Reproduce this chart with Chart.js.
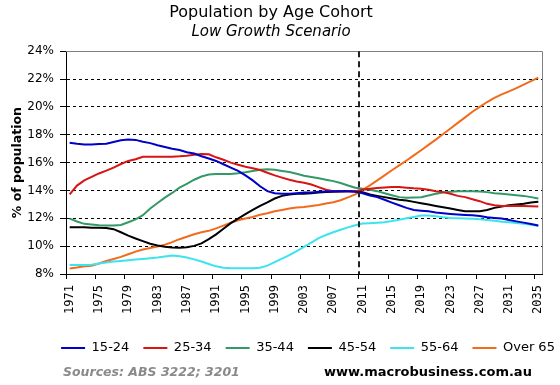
<!DOCTYPE html>
<html>
<head>
<meta charset="utf-8">
<script src="https://cdn.jsdelivr.net/npm/chart.js@4.4.1/dist/chart.umd.min.js"></script>
<style>
  body { margin: 0; background: #fff; }
  #wrap { position: relative; width: 560px; height: 385px; }
  #chart { position: absolute; left: 0; top: 0; }
  .foot { position: absolute; top: 364px; line-height: 16px; font-family: 'DejaVu Sans', sans-serif; font-weight: bold; white-space: nowrap; }
  #sources { left: 63px; font-size: 12.5px; font-style: italic; color: #8a8a8a; }
  #site { left: 324px; font-size: 13px; color: #000; }
</style>
</head>
<body>
<div id="wrap">
  <canvas id="chart" width="560" height="385"></canvas>
  <div class="foot" id="sources">Sources: ABS 3222; 3201</div>
  <div class="foot" id="site">www.macrobusiness.com.au</div>
</div>
<script>
const years = [
  '1971', '1972', '1973', '1974', '1975', '1976', '1977', '1978', '1979', '1980',
  '1981', '1982', '1983', '1984', '1985', '1986', '1987', '1988', '1989', '1990',
  '1991', '1992', '1993', '1994', '1995', '1996', '1997', '1998', '1999', '2000',
  '2001', '2002', '2003', '2004', '2005', '2006', '2007', '2008', '2009', '2010',
  '2011', '2012', '2013', '2014', '2015', '2016', '2017', '2018', '2019', '2020',
  '2021', '2022', '2023', '2024', '2025', '2026', '2027', '2028', '2029', '2030',
  '2031', '2032', '2033', '2034', '2035'
];

// % of population by age group, 1971-2035
const age1524 = [
  17.43, 17.35, 17.30, 17.30, 17.33, 17.36, 17.48, 17.60, 17.65, 17.63,
  17.50, 17.40, 17.25, 17.12, 17.00, 16.90, 16.75, 16.65, 16.46, 16.29,
  16.12, 15.88, 15.64, 15.40, 15.08, 14.72, 14.30, 13.95, 13.80, 13.76,
  13.76, 13.80, 13.85, 13.86, 13.90, 13.92, 13.95, 13.95, 13.95, 13.90,
  13.80, 13.64, 13.52, 13.33, 13.13, 12.94, 12.75, 12.60, 12.55, 12.51,
  12.41, 12.36, 12.31, 12.27, 12.24, 12.22, 12.17, 12.07, 12.02, 11.98,
  11.88, 11.78, 11.69, 11.59, 11.49
];
const age2534 = [
  13.71, 14.35, 14.72, 14.98, 15.22, 15.42, 15.64, 15.90, 16.12, 16.24,
  16.42, 16.42, 16.42, 16.42, 16.42, 16.45, 16.50, 16.57, 16.62, 16.60,
  16.38, 16.20, 16.00, 15.85, 15.70, 15.60, 15.47, 15.27, 15.08, 14.92,
  14.77, 14.65, 14.55, 14.43, 14.24, 14.05, 13.95, 13.95, 13.95, 13.95,
  14.05, 14.12, 14.17, 14.22, 14.24, 14.24, 14.20, 14.15, 14.12, 14.05,
  13.95, 13.88, 13.76, 13.61, 13.52, 13.37, 13.23, 13.04, 12.94, 12.89,
  12.88, 12.88, 12.88, 12.87, 12.84
];
const age3544 = [
  11.98, 11.77, 11.60, 11.55, 11.50, 11.48, 11.48, 11.52, 11.72, 11.92,
  12.22, 12.70, 13.10, 13.48, 13.82, 14.20, 14.48, 14.77, 15.00, 15.14,
  15.18, 15.18, 15.18, 15.23, 15.30, 15.40, 15.48, 15.52, 15.48, 15.40,
  15.33, 15.20, 15.06, 14.96, 14.87, 14.77, 14.67, 14.53, 14.36, 14.19,
  14.12, 14.05, 13.95, 13.80, 13.66, 13.52, 13.47, 13.50, 13.52, 13.64,
  13.76, 13.86, 13.90, 13.95, 13.95, 13.95, 13.93, 13.88, 13.80, 13.76,
  13.71, 13.66, 13.61, 13.52, 13.42
];
const age4554 = [
  11.35, 11.35, 11.35, 11.33, 11.32, 11.30, 11.22, 11.00, 10.76, 10.55,
  10.36, 10.17, 10.05, 9.95, 9.90, 9.88, 9.92, 10.02, 10.20, 10.50,
  10.85, 11.25, 11.65, 11.98, 12.30, 12.60, 12.90, 13.15, 13.42, 13.61,
  13.71, 13.76, 13.76, 13.80, 13.85, 13.88, 13.90, 13.92, 13.95, 13.95,
  13.88, 13.71, 13.61, 13.52, 13.42, 13.33, 13.28, 13.18, 13.08, 12.99,
  12.89, 12.80, 12.70, 12.60, 12.51, 12.51, 12.51, 12.60, 12.75, 12.84,
  12.94, 12.99, 13.04, 13.13, 13.18
];
const age5564 = [
  8.65, 8.65, 8.65, 8.67, 8.75, 8.82, 8.89, 8.94, 8.99, 9.04,
  9.08, 9.13, 9.18, 9.26, 9.32, 9.28, 9.18, 9.05, 8.90, 8.72,
  8.55, 8.45, 8.42, 8.41, 8.41, 8.42, 8.45, 8.60, 8.85, 9.10,
  9.35, 9.65, 9.95, 10.25, 10.58, 10.80, 11.00, 11.18, 11.35, 11.50,
  11.62, 11.65, 11.68, 11.72, 11.80, 11.90, 12.00, 12.10, 12.20, 12.20,
  12.14, 12.07, 12.02, 12.00, 11.98, 11.97, 11.93, 11.88, 11.83, 11.76,
  11.71, 11.66, 11.61, 11.54, 11.45
];
const over65 = [
  8.39, 8.46, 8.55, 8.60, 8.75, 8.94, 9.08, 9.23, 9.42, 9.61,
  9.76, 9.86, 9.98, 10.10, 10.29, 10.50, 10.68, 10.85, 11.00, 11.10,
  11.28, 11.47, 11.68, 11.86, 11.98, 12.10, 12.25, 12.36, 12.50, 12.60,
  12.70, 12.78, 12.82, 12.88, 12.96, 13.06, 13.15, 13.30, 13.50, 13.72,
  14.05, 14.36, 14.72, 15.08, 15.45, 15.80, 16.15, 16.52, 16.89, 17.27,
  17.65, 18.05, 18.45, 18.85, 19.25, 19.65, 20.00, 20.35, 20.65, 20.90,
  21.12, 21.35, 21.60, 21.85, 22.10
];

const seriesNames = ['15-24', '25-34', '35-44', '45-54', '55-64', 'Over 65'];
const seriesData = [age1524, age2534, age3544, age4554, age5564, over65];
const seriesColors = ['#0000c8', '#d81414', '#339966', '#000000', '#3ce4ee', '#f26b1d'];

const yMin = 8;
const yMax = 24;
const yStep = 2;
const forecastFrom = '2011';   // projections start here (dashed line)
const font = "'DejaVu Sans', Verdana, sans-serif";
const legendCenterX = 308;

// grey top/right edge of the plot box
const plotFrame = {
  id: 'plotFrame',
  beforeDatasetsDraw(chart) {
    const a = chart.chartArea;
    const ctx = chart.ctx;
    ctx.save();
    ctx.strokeStyle = '#808080';
    ctx.lineWidth = 1;
    ctx.beginPath();
    ctx.moveTo(a.left, Math.round(a.top) + 0.5);
    ctx.lineTo(Math.round(a.right) + 0.5, Math.round(a.top) + 0.5);
    ctx.lineTo(Math.round(a.right) + 0.5, a.bottom);
    ctx.stroke();
    ctx.restore();
  },
  afterDatasetsDraw(chart) {
    const xs = chart.scales.x;
    const i = years.indexOf(forecastFrom);
    const x = Math.round((xs.getPixelForValue(i) + xs.getPixelForValue(i - 1)) / 2);
    const a = chart.chartArea;
    const ctx = chart.ctx;
    ctx.save();
    ctx.strokeStyle = '#222';
    ctx.lineWidth = 2;
    ctx.setLineDash([6, 4]);
    ctx.beginPath();
    ctx.moveTo(x, a.top);
    ctx.lineTo(x, a.bottom);
    ctx.stroke();
    ctx.restore();
  }
};

// legend sits a bit right of the canvas centre
const legendShift = {
  id: 'legendShift',
  afterLayout(chart) {
    const lg = chart.legend;
    const dx = legendCenterX - (lg.left + lg.right) / 2;
    lg.left += dx;
    lg.right += dx;
  }
};

new Chart(document.getElementById('chart'), {
  type: 'line',
  data: {
    labels: years,
    datasets: seriesNames.map((name, k) => ({
      label: name,
      data: seriesData[k],
      borderColor: seriesColors[k],
      backgroundColor: seriesColors[k],
      borderWidth: 2,
      pointRadius: 0,
      tension: 0,
      fill: false
    }))
  },
  options: {
    responsive: false,
    animation: false,
    events: [],
    layout: { padding: { top: 0, right: 18, bottom: 20.5, left: 0 } },
    plugins: {
      title: {
        display: true,
        text: 'Population by Age Cohort',
        color: '#000',
        font: { family: font, size: 16, weight: 'normal' },
        padding: { top: 3, bottom: 0 }
      },
      subtitle: {
        display: true,
        text: 'Low Growth Scenario',
        color: '#000',
        font: { family: font, size: 15, style: 'italic' },
        padding: { top: 0.5, bottom: 10.5 }
      },
      legend: {
        position: 'bottom',
        labels: {
          usePointStyle: true,
          pointStyle: 'line',
          pointStyleWidth: 24,
          color: '#000',
          font: { family: font, size: 13 },
          padding: 14
        }
      },
      tooltip: { enabled: false }
    },
    scales: {
      x: {
        offset: true,
        grid: {
          offset: true,
          drawOnChartArea: false,
          tickLength: 5,
          tickColor: c => (c.index % 4 === 0 ? '#000' : 'rgba(0,0,0,0)')
        },
        border: { color: '#000', width: 1 },
        ticks: {
          autoSkip: false,
          minRotation: 90,
          maxRotation: 90,
          padding: 6,
          color: '#000',
          font: { family: "'DejaVu Sans Mono', monospace", size: 12 },
          callback: (v, i) => (i % 4 === 0 ? years[i] : '')
        },
        afterFit: s => { s.height = 53.5; }
      },
      y: {
        min: yMin,
        max: yMax,
        grid: {
          color: c => (c.tick && (c.tick.value === yMin || c.tick.value === yMax) ? 'rgba(0,0,0,0)' : '#000'),
          tickColor: '#000',
          tickLength: 6,
          lineWidth: 1
        },
        border: { color: '#000', width: 1, dash: [3, 3] },
        ticks: {
          stepSize: yStep,
          padding: 6,
          color: '#000',
          font: { family: font, size: 12 },
          callback: v => v + '%'
        },
        title: {
          display: true,
          text: '% of population',
          color: '#000',
          font: { family: font, size: 12.5, weight: 'bold' },
          padding: { top: 10, bottom: 0 }
        },
        afterFit: s => { s.width = 66; }
      }
    }
  },
  plugins: [plotFrame, legendShift]
});
</script>
</body>
</html>
